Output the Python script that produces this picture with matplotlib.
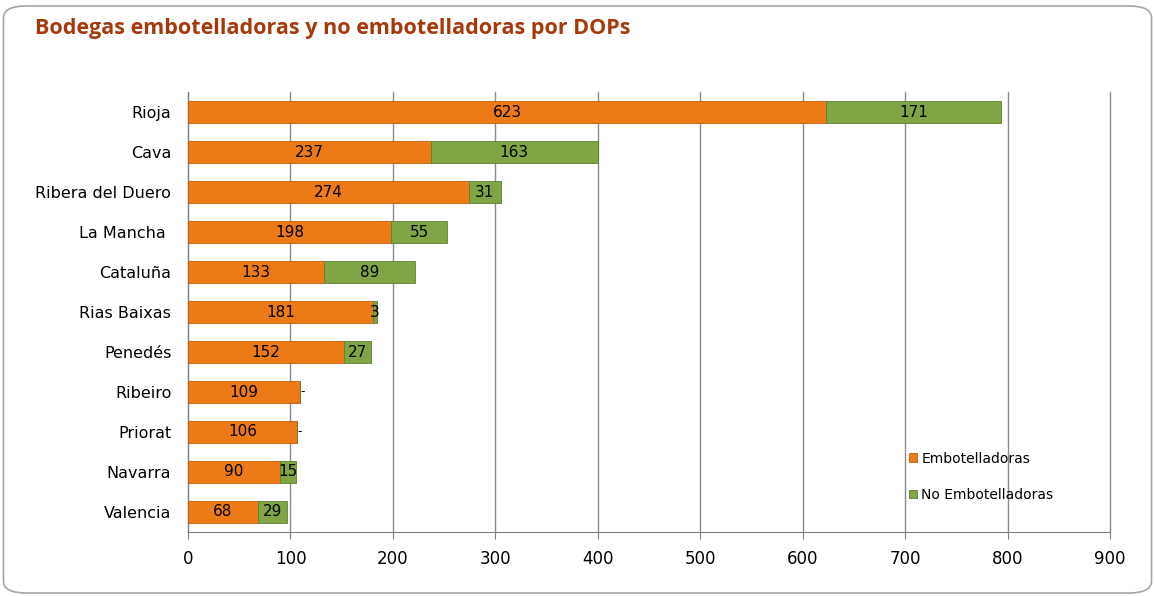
import matplotlib.pyplot as plt
from matplotlib.patches import FancyBboxPatch

# datos
dops = ["Rioja", "Cava", "Ribera del Duero", "La Mancha ", "Cataluña", "Rias Baixas",
        "Penedés", "Ribeiro", "Priorat", "Navarra", "Valencia"]
embotelladoras = [623, 237, 274, 198, 133, 181, 152, 109, 106, 90, 68]
no_embotelladoras = [171, 163, 31, 55, 89, 3, 27, 0, 0, 15, 29]

naranja = "#EC7A16"
verde = "#7FA545"

fig = plt.figure(figsize=(11.55, 5.96), dpi=100)

# marco redondeado (detras de los ejes)
marco = FancyBboxPatch((0.003, 0.005), 0.994, 0.985, boxstyle="round,pad=0,rounding_size=0.02",
                       transform=fig.transFigure, facecolor="white", edgecolor="#A6A6A6", lw=1.2,
                       zorder=-1)
fig.patches.append(marco)

fig.text(0.030, 0.952, "Bodegas embotelladoras y no embotelladoras por DOPs",
         fontsize=15.5, fontweight="bold", color="#A5390B", family="Open Sans", va="center")

ax = fig.add_axes([0.1628, 0.1074, 0.7983, 0.7382])
ax.set_facecolor("none")

y = list(range(len(dops)))
h = 0.55
ax.barh(y, embotelladoras, height=h, color=naranja, edgecolor="#C35F0C", lw=0.6,
        label="Embotelladoras", zorder=3)
ax.barh(y, no_embotelladoras, left=embotelladoras, height=h, color=verde,
        edgecolor="#5F8030", lw=0.6, label="No Embotelladoras", zorder=3)

# etiquetas de datos
for i in y:
    e, n = embotelladoras[i], no_embotelladoras[i]
    ax.text(e / 2, i, str(e), ha="center", va="center", fontsize=11, zorder=4)
    if n == 0:
        ax.text(e + 1, i, "-", ha="left", va="center", fontsize=9, zorder=4)
    else:
        ax.text(e + n / 2, i, str(n), ha="center", va="center", fontsize=11, zorder=4)

ax.set_xlim(0, 900)
ax.set_ylim(len(dops) - 0.5, -0.5)
ax.set_xticks(range(0, 901, 100))
ax.set_yticks(y)
ax.set_yticklabels(dops)
ax.tick_params(axis="x", labelsize=12, length=5, color="#808080", pad=8)
ax.tick_params(axis="y", labelsize=11.5, length=0, pad=12)
ax.xaxis.grid(True, color="#8C8C8C", lw=1, zorder=0)
for gl in ax.get_xgridlines():
    gl.set_clip_on(False)
for s in ["top", "right"]:
    ax.spines[s].set_visible(False)
ax.spines["left"].set_color("#808080")
ax.spines["bottom"].set_color("#808080")

ax.legend(loc="lower left", bbox_to_anchor=(0.768, 0.04), frameon=False, fontsize=10,
          handlelength=0.6, handleheight=0.6, handletextpad=0.3, labelspacing=1.6)

plt.savefig("out.png", dpi=100)
